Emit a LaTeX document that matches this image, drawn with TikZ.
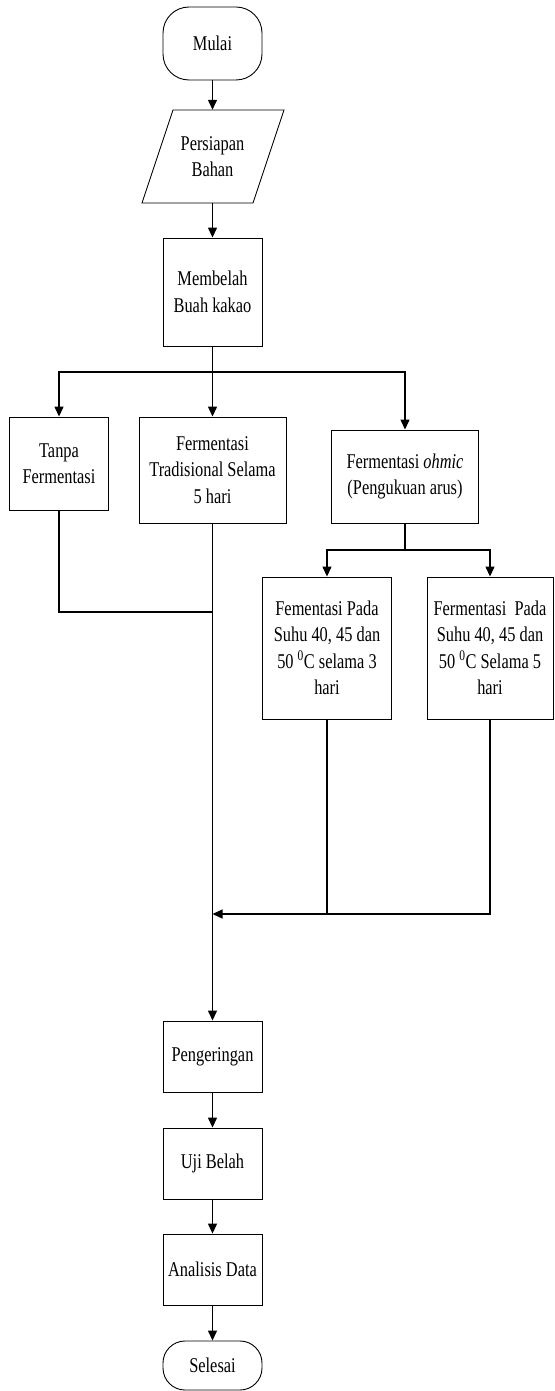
\documentclass[tikz,border=0pt]{standalone}
\usepackage{fontspec}
\setmainfont[FakeStretch=0.78]{Liberation Serif}
\usetikzlibrary{arrows.meta}
\begin{document}
\begin{tikzpicture}[x=1pt,y=-1pt,
  every node/.style={font=\fontsize{21}{26.5}\selectfont, align=center, inner sep=0pt},
  procbox/.style={draw, line width=0.9pt, rectangle, minimum width=99pt},
  termbox/.style={draw, line width=0.9pt, rectangle, rounded corners=26pt, minimum width=99pt},
  link/.style={line width=1.3pt},
  arr/.style={line width=1.3pt, -{Triangle[length=10pt,width=9pt]}}
]
\fill[white] (0,0) rectangle (554,1391);
\useasboundingbox (0,0) rectangle (554,1391);

\node[termbox, minimum height=73pt] (mulai) at (212.5,43.5) {Mulai};
\draw[line width=0.9pt] (173,110) -- (284,110) -- (253,203) -- (142,203) -- cycle;
\node[minimum width=111pt, minimum height=93pt] (prep) at (212.5,156.5) {Persiapan\\Bahan};
\node[procbox, minimum height=108pt] (memb) at (212.5,292) {Membelah\\Buah kakao};

\node[procbox, minimum height=93pt] (tanpa) at (59,463.5) {Tanpa\\Fermentasi};
\node[procbox, minimum width=147pt, minimum height=106pt] (trad) at (212.5,470) {Fermentasi\\Tradisional Selama\\5 hari};
\node[procbox, minimum width=147pt, minimum height=93pt] (ohmic) at (405,476.5) {Fermentasi \textit{ohmic}\\(Pengukuan arus)};

\node[procbox, minimum width=129pt, minimum height=142pt] (f3) at (327,648) {Fementasi Pada\\Suhu 40, 45 dan\\50 \textsuperscript{0}C selama 3\\hari};
\node[procbox, minimum width=126pt, minimum height=142pt] (f5) at (490,648) {Fermentasi~ Pada\\Suhu 40, 45 dan\\50 \textsuperscript{0}C Selama 5\\hari};

\node[procbox, minimum height=71pt] (peng) at (212.5,1056.5) {Pengeringan};
\node[procbox, minimum height=71pt] (uji) at (212.5,1163.5) {Uji Belah};
\node[procbox, minimum height=71pt] (anal) at (212.5,1269.5) {Analisis Data};
\node[termbox, minimum height=49pt, rounded corners=22pt] (sel) at (212.5,1365.5) {Selesai};

\coordinate (b1) at (212.5,372);
\coordinate (b2) at (405,550);
\coordinate (j1) at (212.5,612);
\coordinate (m) at (212.5,914);

\draw[arr] (mulai.south) -- (prep.north);
\draw[arr] (prep.south) -- (memb.north);
\draw[link] (memb.south) -- (b1);
\draw[arr] (b1) -| (tanpa.north);
\draw[arr] (b1) -- (trad.north);
\draw[arr] (b1) -| (ohmic.north);
\draw[link] (ohmic.south) -- (b2);
\draw[arr] (b2) -| (f3.north);
\draw[arr] (b2) -| (f5.north);
\draw[link] (tanpa.south) |- (j1);
\draw[link] (f3.south) -- (f3.south |- m);
\draw[arr] (f5.south) |- (m);
\draw[arr] (trad.south) -- (peng.north);
\draw[arr] (peng.south) -- (uji.north);
\draw[arr] (uji.south) -- (anal.north);
\draw[arr] (anal.south) -- (sel.north);
\end{tikzpicture}
\end{document}
